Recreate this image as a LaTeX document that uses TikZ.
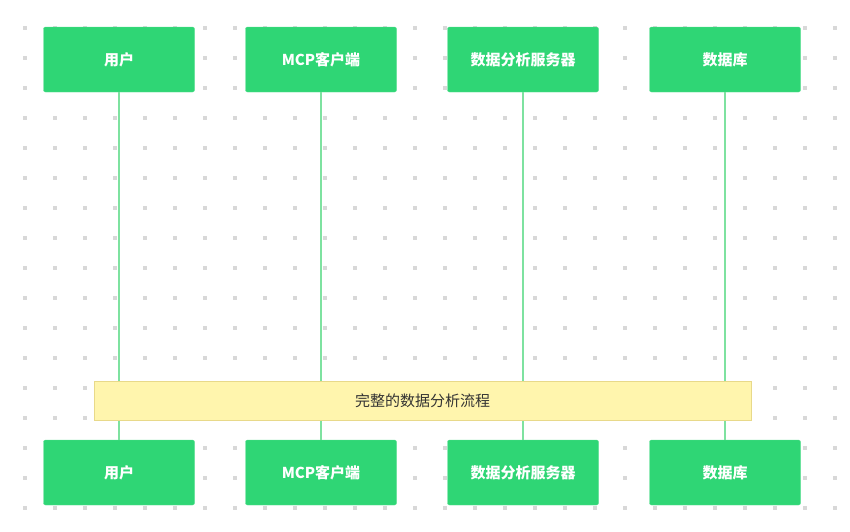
\documentclass[tikz,border=0pt]{standalone}
\usepackage{fontspec}
\setmainfont{Noto Sans CJK SC}
\usetikzlibrary{positioning}
\definecolor{actorfill}{HTML}{2FD675}
\definecolor{lifecol}{HTML}{7EE2A0}
\definecolor{notefill}{HTML}{FFF5AD}
\definecolor{notedraw}{HTML}{E8D98A}
\definecolor{dotcol}{HTML}{D8D8D8}
\tikzset{
  actor/.style={draw=actorfill!80!white, fill=actorfill, rounded corners=2pt,
    minimum width=151pt, minimum height=65pt, text=white, font=\fontsize{15pt}{16pt}\selectfont\bfseries},
  life/.style={draw=lifecol, line width=2pt},
  notebox/.style={draw=notedraw, fill=notefill, minimum width=657pt, minimum height=39pt,
    font=\fontsize{15pt}{16pt}\selectfont, text=black!80}
}
\begin{document}
\begin{tikzpicture}[x=1pt,y=-1pt]
\useasboundingbox (0,0) rectangle (850,531);

% grid dots
\foreach \i in {0,...,27}
  \foreach \j in {0,...,16}
    \fill[dotcol] (25+30*\i-2,28+30*\j-2) rectangle ++(4,4);

% Participants (top)
\node[actor] (userT) at (119,59.5) {用户};
\node[actor] (mcpT) at (321,59.5) {MCP客户端};
\node[actor] (srvT) at (523,59.5) {数据分析服务器};
\node[actor] (dbT) at (725,59.5) {数据库};

% Participants (bottom)
\node[actor] (userB) at (119,472.5) {用户};
\node[actor] (mcpB) at (321,472.5) {MCP客户端};
\node[actor] (srvB) at (523,472.5) {数据分析服务器};
\node[actor] (dbB) at (725,472.5) {数据库};

% Lifelines
\draw[life] (userT) -- (userB);
\draw[life] (mcpT) -- (mcpB);
\draw[life] (srvT) -- (srvB);
\draw[life] (dbT) -- (dbB);

% Note
\node[notebox] (flow) at (422.5,400.5) {完整的数据分析流程};
\end{tikzpicture}
\end{document}
